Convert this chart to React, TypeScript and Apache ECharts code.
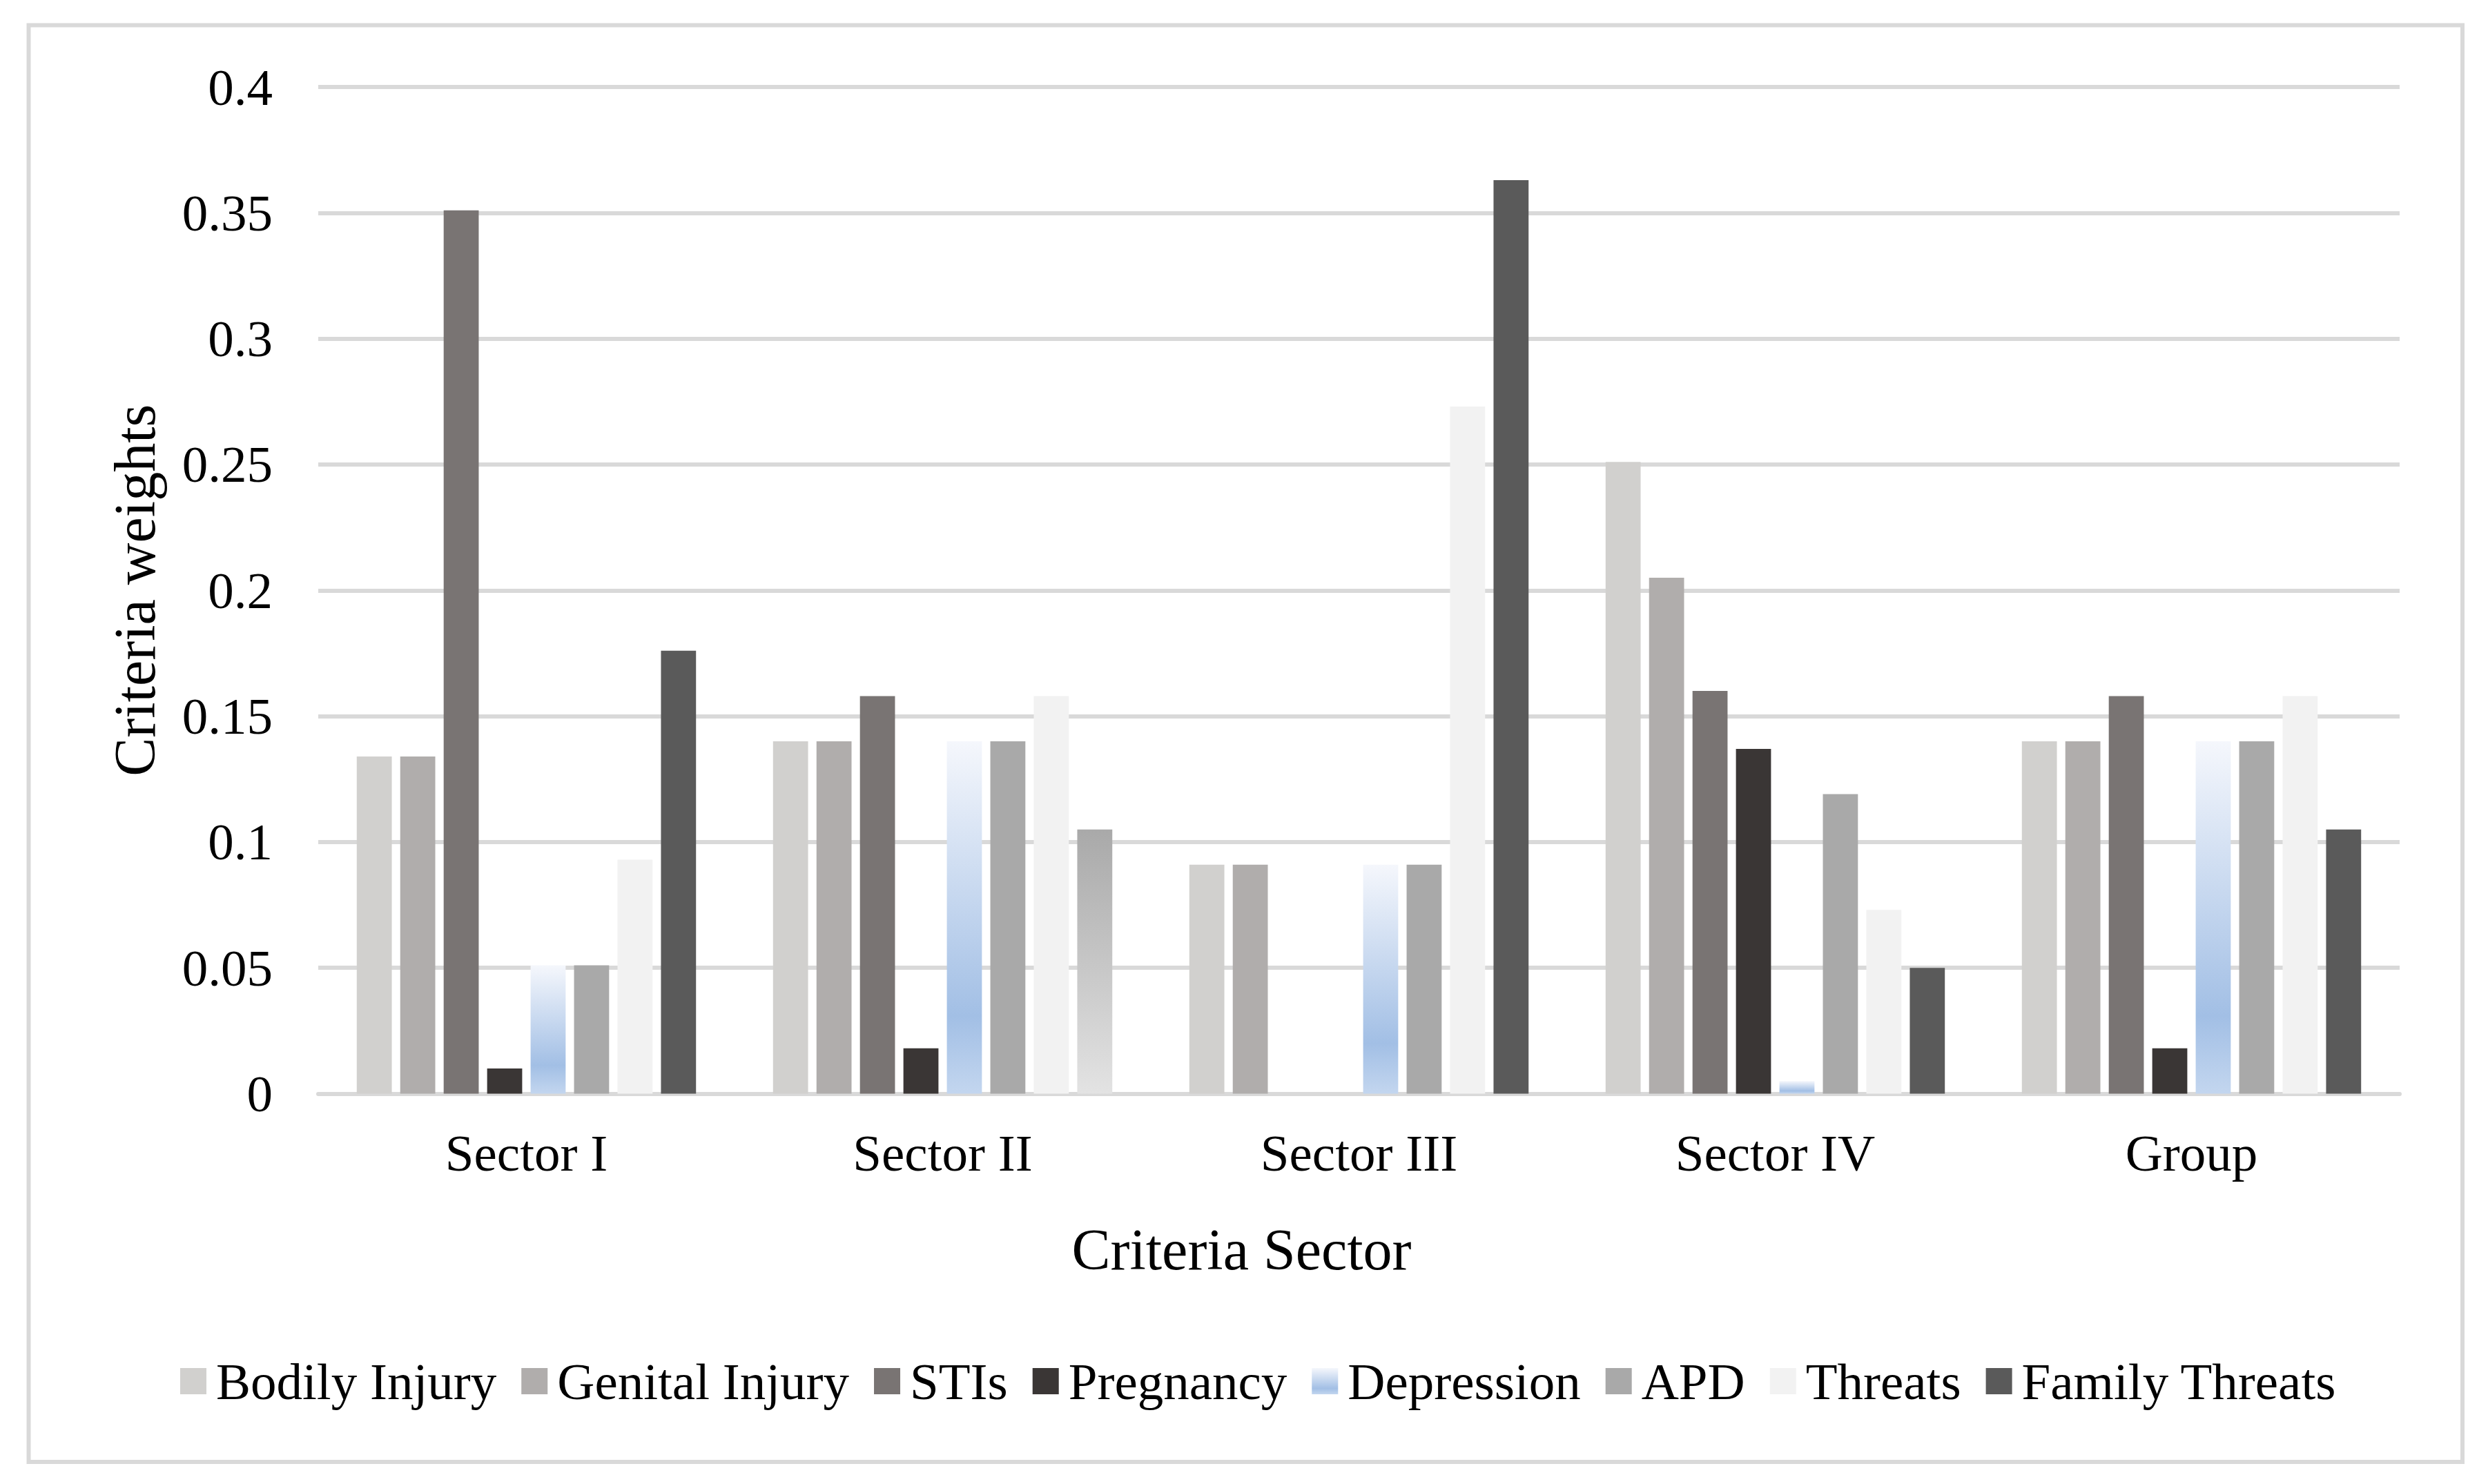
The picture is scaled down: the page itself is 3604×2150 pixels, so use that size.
import React, { useEffect, useRef } from "react";
import * as echarts from "echarts";

const categories = ["Sector I", "Sector II", "Sector III", "Sector IV", "Group"];
const seriesNames = [
  "Bodily Injury",
  "Genital Injury",
  "STIs",
  "Pregnancy",
  "Depression",
  "APD",
  "Threats",
  "Family Threats",
];
const bodilyInjury = [0.134, 0.140, 0.091, 0.251, 0.140];
const genitalInjury = [0.134, 0.140, 0.091, 0.205, 0.140];
const stis = [0.351, 0.158, 0, 0.160, 0.158];
const pregnancy = [0.010, 0.018, 0, 0.137, 0.018];
const depression = [0.051, 0.140, 0.091, 0.005, 0.140];
const apd = [0.051, 0.140, 0.091, 0.119, 0.140];
const threats = [0.093, 0.158, 0.273, 0.073, 0.158];
const familyThreats = [0.176, 0.105, 0.363, 0.050, 0.105];
const yTicks = { min: 0, max: 0.4, interval: 0.05 };

const FONT = "'Liberation Serif', 'Times New Roman', serif";

export default function App() {
  const ref = useRef<HTMLDivElement>(null);
  useEffect(() => {
    if (!ref.current) return;
    const chart = echarts.init(ref.current, undefined, { renderer: "svg" });
    const depGrad = new echarts.graphic.LinearGradient(0, 0, 0, 1, [
      { offset: 0, color: "#f5f7fc" },
      { offset: 0.78, color: "#a2bfe5" },
      { offset: 1, color: "#c3d6ef" },
    ]);
    const greyGrad = new echarts.graphic.LinearGradient(0, 0, 0, 1, [
      { offset: 0, color: "#a9a9a9" },
      { offset: 1, color: "#e3e3e3" },
    ]);
    const colors: any[] = [
      "#d1d0ce",
      "#b0adac",
      "#797473",
      "#3a3635",
      depGrad,
      "#a9a9a9",
      "#f2f2f2",
      "#5a5a5a",
    ];
    const values = [bodilyInjury, genitalInjury, stis, pregnancy, depression, apd, threats, familyThreats];
    const series = seriesNames.map((name, i) => ({
      name,
      type: "bar",
      barGap: "24%",
      barCategoryGap: "18.5%",
      itemStyle: { color: colors[i] },
      data: values[i].map((v, j) =>
        name === "Family Threats" && j === 1
          ? { value: v, itemStyle: { color: greyGrad } }
          : v
      ),
    }));
    chart.setOption({
      animation: false,
      backgroundColor: "#ffffff",
      color: colors,
      textStyle: { fontFamily: FONT },
      graphic: [
        {
          type: "rect",
          shape: { x: 41.5, y: 36.5, width: 3525.5, height: 2081.5 },
          style: { fill: "none", stroke: "#d9d9d9", lineWidth: 6 },
          silent: true,
        },
      ],
      grid: { left: 461, right: 3604 - 3476, top: 126, bottom: 2150 - 1584.5, containLabel: false },
      legend: {
        data: seriesNames,
        left: 256,
        top: 1958,
        itemWidth: 38,
        itemHeight: 38,
        itemGap: 36,
        icon: "rect",
        textStyle: {
          fontFamily: FONT,
          fontSize: 75,
          color: "#000",
          lineHeight: 76,
          padding: [0, 0, 0, 9],
        },
      },
      xAxis: {
        type: "category",
        data: categories,
        name: "Criteria Sector",
        nameLocation: "middle",
        nameGap: 184,
        nameTextStyle: { fontFamily: FONT, fontSize: 84, color: "#000", padding: [0, 340, 0, 0] },
        axisLine: { lineStyle: { color: "#d9d9d9", width: 6 } },
        axisTick: { show: false },
        axisLabel: { fontFamily: FONT, fontSize: 75, color: "#000", margin: 48 },
      },
      yAxis: {
        type: "value",
        min: yTicks.min,
        max: yTicks.max,
        interval: yTicks.interval,
        name: "Criteria weights",
        nameLocation: "middle",
        nameGap: 224,
        nameTextStyle: { fontFamily: FONT, fontSize: 84, color: "#000" },
        axisLine: { show: false },
        axisTick: { show: false },
        axisLabel: { fontFamily: FONT, fontSize: 75, color: "#000", margin: 66 },
        splitLine: { lineStyle: { color: "#d9d9d9", width: 6 } },
      },
      series,
    });
    return () => chart.dispose();
  }, []);
  return (
    <div
      ref={ref}
      style={{ position: "fixed", left: 0, top: 0, width: 3604, height: 2150, background: "#fff" }}
    />
  );
}
